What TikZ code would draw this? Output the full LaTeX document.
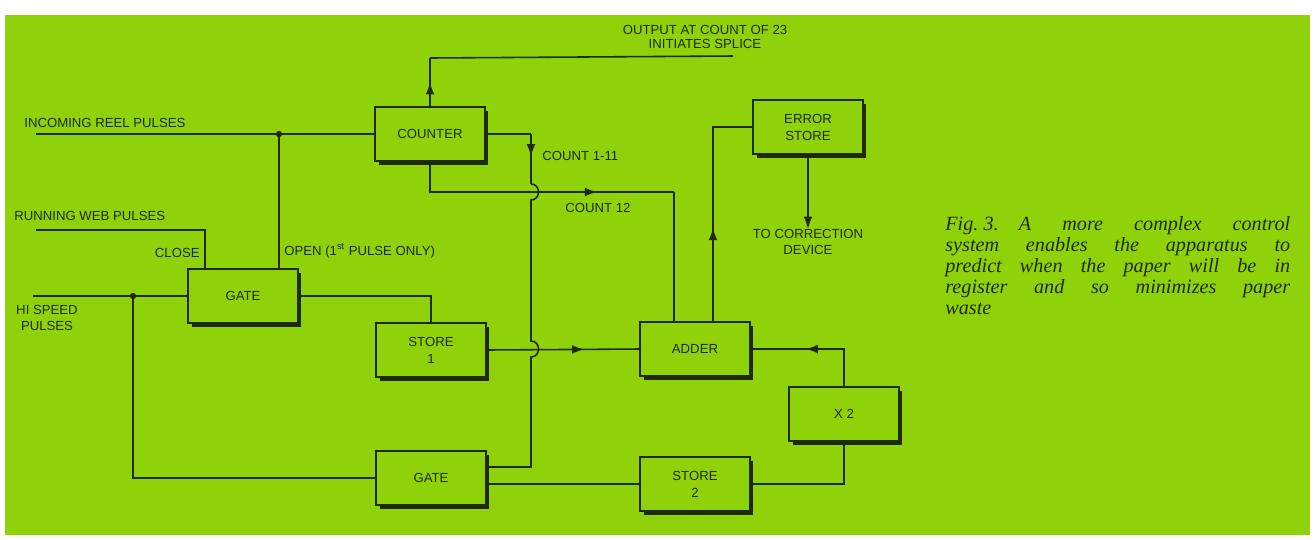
\documentclass[tikz,border=0pt]{standalone}
\usepackage{fontspec}
\setmainfont{Liberation Serif}
\setsansfont{Liberation Sans}
\usetikzlibrary{
arrows.meta,
positioning,
calc,
shadows,
decorations.markings
}
\definecolor{FigGreen}{HTML}{8FD20A}
\definecolor{FigInk}{HTML}{1E2B00}
\definecolor{FigPaper}{HTML}{FFFFFF}
\tikzset{
figblock/.style={draw=FigInk, fill=FigGreen, line width=0.8pt, minimum width=2.2cm,
  minimum height=1.08cm, align=center, text=FigInk, font=\sffamily\fontsize{7.5}{9.7}\selectfont,
  drop shadow={shadow xshift=0.07cm, shadow yshift=-0.07cm, fill=FigInk, opacity=1}},
figlabel/.style={font=\sffamily\fontsize{7.5}{9.2}\selectfont, text=FigInk, inner sep=0pt, align=center},
figwire/.style={draw=FigInk, line width=0.9pt},
figflow/.style={decoration={markings, mark=at position #1 with {\arrow{Latex[length=7pt,width=5pt]}}},
  postaction={decorate}},
figflow/.default=0.5,
figend/.style={-{Latex[length=7pt,width=5pt]}}
}
\begin{document}
\begin{tikzpicture}[x=0.02cm, y=-0.02cm]
\useasboundingbox (0,0) rectangle (1316,539);
\fill[FigPaper] (0,0) rectangle (1316,539);
\fill[FigGreen] (5,15) rectangle (1310,535);

\node[figblock] (counter) at (430,134) {COUNTER};
\node[figblock] (errstore) at (808,127) {ERROR\\STORE};
\node[figblock] (gate1) at (243,296) {GATE};
\node[figblock] (store1) at (431,350) {STORE\\1};
\node[figblock] (adder) at (695,349) {ADDER};
\node[figblock] (xtwo) at (844,414) {X 2};
\node[figblock] (gate2) at (431,478) {GATE};
\node[figblock] (store2) at (695,484) {STORE\\2};

\coordinate (reelin) at (36,134);
\coordinate (jreel) at (279,134);
\coordinate (webin) at (36,230);
\coordinate (webturn) at (205,230);
\coordinate (hsin) at (33,296);
\coordinate (jhs) at (133,296);
\coordinate (outturn) at (430,58);
\coordinate (outend) at (733,56);
\coordinate (cnt1) at (531,134);
\coordinate (hop1a) at (531,184);
\coordinate (hop1b) at (531,200);
\coordinate (hop2a) at (531,341);
\coordinate (hop2b) at (531,357);
\coordinate (cnt2) at (531,467);
\coordinate (c12turn) at (674,192);

\node[figlabel, anchor=west] (reellab) at (24,123) {INCOMING REEL PULSES};
\node[figlabel, anchor=west] (weblab) at (14,216) {RUNNING WEB PULSES};
\node[figlabel, anchor=east] (closelab) at (200,253) {CLOSE};
\node[figlabel, anchor=west] (openlab) at (284,251) {OPEN (1\textsuperscript{st} PULSE ONLY)};
\node[figlabel] (hslab) at (47,318) {HI SPEED\\PULSES};
\node[figlabel, anchor=west] (c111lab) at (542,156) {COUNT 1-11};
\node[figlabel, anchor=west] (c12lab) at (565,208) {COUNT 12};
\node[figlabel, font=\sffamily\fontsize{7.5}{7.6}\selectfont] (outlab) at (705,37) {OUTPUT AT COUNT OF 23\\INITIATES SPLICE};
\node[figlabel] (todev) at (808,242) {TO CORRECTION\\DEVICE};
\node[anchor=north west, inner sep=0pt, text width=6.9cm, align=justify, text=FigInk,
  font=\rmfamily\itshape\fontsize{11.5}{12}\selectfont]
  (caption) at (945,216) {\tolerance=9999\relax\hyphenpenalty=10000\relax
  \mbox{Fig.\ 3.}\quad A more complex control\linebreak system enables the apparatus to\linebreak predict when the paper will be in\linebreak register and so minimizes paper\linebreak waste};

\draw[figwire] (reelin) -- (counter.west);
\draw[figwire] (jreel) -- (jreel |- gate1.north);
\draw[figwire] (webin) -- (webturn) -- (webturn |- gate1.north);
\draw[figwire] (hsin) -- (gate1.west);
\draw[figwire] (jhs) |- (gate2.west);
\draw[figwire] (gate1.east) -| (store1.north);
\draw[figwire, figflow=0.5] (counter.north) -- (outturn);
\draw[figwire] (outturn) -- (outend);
\draw[figwire] (counter.east) -- (cnt1);
\draw[figwire, figflow=0.45] (cnt1) -- (hop1a);
\draw[figwire] (hop1a) .. controls +(10,0) and +(10,0) .. (hop1b) -- (hop2a)
  .. controls +(10,0) and +(10,0) .. (hop2b) -- (cnt2) -- (gate2.east |- cnt2);
\draw[figwire, figflow=0.72] (counter.south) |- (c12turn);
\draw[figwire] (c12turn) -- (c12turn |- adder.north);
\draw[figwire, figflow=0.64] (store1.east) -- (adder.west);
\draw[figwire] (gate2.east |- store2.west) -- (store2.west);
\draw[figwire] (store2.east) -| (xtwo.south);
\draw[figwire, figflow=0.58] (xtwo.north) |- (adder.east);
\draw[figwire, figflow=0.4] ([xshift=0.36cm]adder.north) |- (errstore.west);
\draw[figwire, figend] (errstore.south) -- (todev.north);
\fill[FigInk] (jreel) circle[radius=1.8pt];
\fill[FigInk] (jhs) circle[radius=1.8pt];
\end{tikzpicture}
\end{document}
